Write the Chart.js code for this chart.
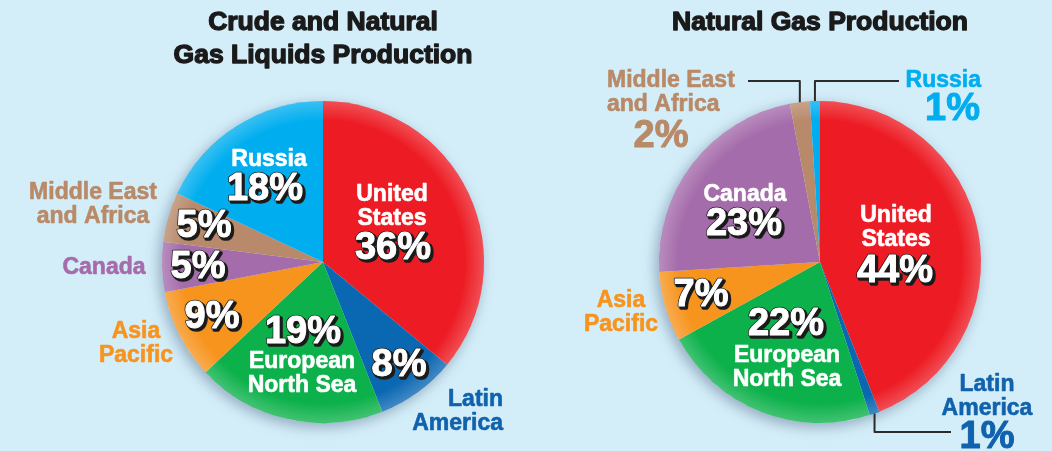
<!DOCTYPE html>
<html>
<head>
<meta charset="utf-8">
<script src="https://cdn.jsdelivr.net/npm/chart.js@4.4.1/dist/chart.umd.min.js"></script>
<style>
  html,body{margin:0;padding:0;background:#d4eef9;}
  #wrap{position:relative;width:1052px;height:451px;overflow:hidden;}
  canvas{position:absolute;top:0;}
</style>
</head>
<body>
<div id="wrap">
  <canvas id="crudePie" width="526" height="451" style="left:0"></canvas>
  <canvas id="gasPie" width="526" height="451" style="left:526px"></canvas>
</div>
<script>
// --- data ---
var categories  = ['United States','Latin America','European North Sea','Asia Pacific','Canada','Middle East and Africa','Russia'];
var nameLines   = [['United','States'],['Latin','America'],['European','North Sea'],['Asia','Pacific'],['Canada'],['Middle East','and Africa'],['Russia']];
var crudeShares = [36, 8, 19, 9, 5, 5, 18];
var gasShares   = [44, 1, 22, 7, 23, 2, 1];
var crudeTitle  = ['Crude and Natural','Gas Liquids Production'];
var gasTitle    = ['Natural Gas Production'];

var sliceColors = ['#ed1c24','#0a67b2','#0db14b','#f7941e','#a56cab','#b8896a','#00aeef'];
var textColors  = ['#ed1c24','#1162ad','#0db14b','#f7941e','#a56cab','#b98a68','#00aeef'];
var BG = '#d4eef9';

// label layout per slice: n = name position, p = percent position, in = drawn inside the slice
var crudeLayout = [
  {n:[392,201,'center',1], p:[393,259,1]},
  {n:[503,406,'right',0],  p:[399,376,1]},
  {n:[302,368,'center',1], p:[303,343,1]},
  {n:[136,338,'center',0], p:[212,328,1]},
  {n:[104,274,'center',0], p:[198,278,1]},
  {n:[93,199,'center',0],  p:[204,237,1]},
  {n:[269,166,'center',1], p:[265,200,1]}
];
var gasLayout = [
  {n:[370,222,'center',1], p:[369,282,1]},
  {n:[461,391,'center',0], p:[461,448,0]},
  {n:[261,362,'center',1], p:[260,335,1]},
  {n:[95,307,'center',0],  p:[175,306,1]},
  {n:[219,201,'center',1], p:[218,235,1]},
  {n:[81,87,'left',0],     p:[135,147,0]},
  {n:[455,87,'right',0],   p:[454,120,0,'right']}
];
// leader lines: slice index, y of the elbow, x of the end
var gasLeaders = [
  {i:5, y:81, x:222},
  {i:6, y:81, x:373},
  {i:1, y:432, x:425}
];

var NAME_FONT = 'bold 23px "Liberation Sans", Arial, sans-serif';
var PCT_FONT  = 'bold 38px "Liberation Sans", Arial, sans-serif';
var TITLE_FONT= 'bold 25px "Liberation Sans", Arial, sans-serif';

function pctText(ctx, txt, x, y, inside, color, align){
  ctx.font = PCT_FONT;
  ctx.textAlign = align || 'center';
  ctx.textBaseline = 'alphabetic';
  ctx.lineJoin = 'round';
  if(inside){
    ctx.fillStyle = '#1b1b1b'; ctx.strokeStyle = '#1b1b1b'; ctx.lineWidth = 3.5;
    ctx.strokeText(txt, x+2, y+2); ctx.fillText(txt, x+2, y+2);
    ctx.lineWidth = 2.5; ctx.strokeText(txt, x, y);
    ctx.fillStyle = '#ffffff'; ctx.strokeStyle = '#ffffff'; ctx.lineWidth = 1;
    ctx.fillText(txt, x, y); ctx.strokeText(txt, x, y);
  } else {
    ctx.fillStyle = color; ctx.strokeStyle = color; ctx.lineWidth = 1;
    ctx.fillText(txt, x, y); ctx.strokeText(txt, x, y);
  }
}

function makePlugin(title, titleX, shares, layout, leaders){
  return {
    id:'decor',
    beforeDatasetsDraw:function(chart){
      var a = chart.getDatasetMeta(0).data[0], ctx = chart.ctx;
      ctx.save();
      ctx.shadowColor = 'rgba(20,40,80,0.35)';
      ctx.shadowBlur = 14; ctx.shadowOffsetX = -3; ctx.shadowOffsetY = 4;
      ctx.fillStyle = BG;
      ctx.beginPath(); ctx.arc(a.x, a.y, a.outerRadius, 0, Math.PI*2); ctx.fill();
      ctx.restore();
    },
    afterDatasetsDraw:function(chart){
      var a = chart.getDatasetMeta(0).data[0], ctx = chart.ctx, r = a.outerRadius;
      ctx.save();
      var g = ctx.createRadialGradient(a.x, a.y, r*0.88, a.x, a.y, r);
      g.addColorStop(0, 'rgba(255,255,255,0)');
      g.addColorStop(1, 'rgba(255,255,255,0.22)');
      ctx.fillStyle = g;
      ctx.beginPath(); ctx.arc(a.x, a.y, r, 0, Math.PI*2); ctx.fill();
      ctx.restore();
    },
    afterDraw:function(chart){
      var ctx = chart.ctx, meta = chart.getDatasetMeta(0);
      ctx.save();
      // title
      ctx.fillStyle = '#1a1a1a'; ctx.strokeStyle = '#1a1a1a'; ctx.lineWidth = 1.3; ctx.lineJoin = 'round';
      ctx.font = TITLE_FONT; ctx.textAlign = 'center'; ctx.textBaseline = 'alphabetic';
      title.forEach(function(t, k){
        ctx.save(); ctx.translate(titleX, 30 + k*33); ctx.scale(1.06, 1);
        ctx.fillText(t, 0, 0); ctx.strokeText(t, 0, 0); ctx.restore();
      });
      // leader lines
      (leaders||[]).forEach(function(l){
        var el = meta.data[l.i];
        var mid = (el.startAngle + el.endAngle)/2;
        var sx = el.x + Math.cos(mid)*el.outerRadius, sy = el.y + Math.sin(mid)*el.outerRadius;
        ctx.strokeStyle = '#2b2b2b'; ctx.lineWidth = 2;
        ctx.beginPath(); ctx.moveTo(sx, sy); ctx.lineTo(sx, l.y); ctx.lineTo(l.x, l.y); ctx.stroke();
      });
      // slice labels
      layout.forEach(function(L, i){
        ctx.font = NAME_FONT; ctx.textAlign = L.n[2]; ctx.textBaseline = 'alphabetic';
        ctx.fillStyle = ctx.strokeStyle = L.n[3] ? '#ffffff' : textColors[i];
        ctx.lineWidth = 0.6;
        nameLines[i].forEach(function(t, k){
          ctx.fillText(t, L.n[0], L.n[1] + k*24); ctx.strokeText(t, L.n[0], L.n[1] + k*24);
        });
        pctText(ctx, shares[i] + '%', L.p[0], L.p[1], L.p[2], textColors[i], L.p[3]);
      });
      ctx.restore();
    }
  };
}

function makePie(id, shares, padding, plugin){
  var el = document.getElementById(id);
  if(!el) return;
  new Chart(el, {
    type:'pie',
    data:{
      labels:categories,
      datasets:[{data:shares, backgroundColor:sliceColors, borderWidth:0}]
    },
    options:{
      responsive:false,
      animation:false,
      layout:{padding:padding},
      plugins:{legend:{display:false}, tooltip:{enabled:false}}
    },
    plugins:[plugin]
  });
}

makePie('crudePie', crudeShares, {top:101, bottom:28, left:162, right:42},
        makePlugin(crudeTitle, 323, crudeShares, crudeLayout, null));
makePie('gasPie', gasShares, {top:101, bottom:28, left:133, right:71},
        makePlugin(gasTitle, 294, gasShares, gasLayout, gasLeaders));
</script>
</body>
</html>
